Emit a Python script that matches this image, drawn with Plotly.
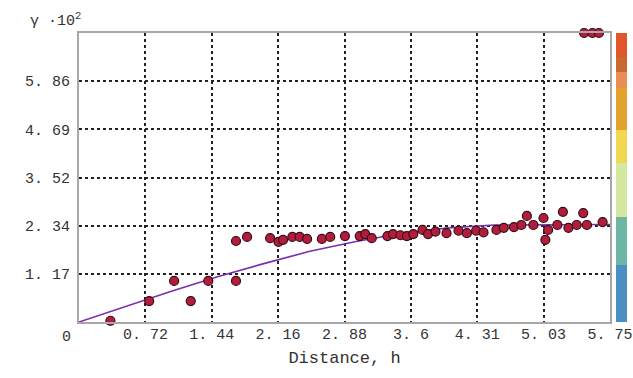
import plotly.graph_objects as go

# Experimental semivariogram points (distance h, gamma x 10^2)
pts_x = [0.34, 0.76, 1.03, 1.21, 1.40, 1.70, 1.70, 1.82,
         2.07, 2.16, 2.21, 2.31, 2.39, 2.47, 2.63, 2.72, 2.88, 3.04, 3.10, 3.17,
         3.34, 3.40, 3.48, 3.55, 3.62, 3.72, 3.78,
         3.86, 3.98, 4.11, 4.20, 4.30, 4.38, 4.52, 4.60, 4.71, 4.79, 4.85, 4.92,
         5.03, 5.05, 5.08, 5.18, 5.24, 5.30, 5.39, 5.46, 5.50, 5.67,
         5.47, 5.56, 5.63]
pts_y = [0.03, 0.51, 1.00, 0.51, 1.00, 1.00, 1.97, 2.07,
         2.04, 1.95, 2.00, 2.07, 2.07, 2.02, 2.02, 2.07, 2.09, 2.09, 2.14, 2.04,
         2.09, 2.14, 2.11, 2.09, 2.14, 2.24, 2.14,
         2.20, 2.16, 2.22, 2.16, 2.22, 2.18, 2.24, 2.29, 2.31, 2.36, 2.58, 2.36,
         2.53, 2.00, 2.24, 2.36, 2.68, 2.29, 2.36, 2.65, 2.36, 2.43,
         7.03, 7.03, 7.03]

# Fitted model curve
fit_x = [0.0, 0.5, 1.0, 1.5, 2.0, 2.5, 3.0, 3.5, 4.0, 4.5, 5.0, 5.75]
fit_y = [0.0, 0.38, 0.75, 1.10, 1.42, 1.72, 1.96, 2.16, 2.29, 2.36, 2.37, 2.37]

x_tickvals = [0.719, 1.4375, 2.156, 2.875, 3.594, 4.3125, 5.031, 5.75]
x_ticktext = ["0. 72", "1. 44", "2. 16", "2. 88", "3. 6", "4. 31", "5. 03", "5. 75"]
y_tickvals = [1.172, 2.343, 3.515, 4.687, 5.858]
y_ticktext = ["1. 17", "2. 34", "3. 52", "4. 69", "5. 86"]

cbar_colors = ["#4A8FC4", "#6DB5A5", "#D5E8A0", "#F2D850", "#E1A22E",
               "#E98F55", "#C86A30", "#E0552A"]
cbar_bounds = [0.0, 0.197, 0.363, 0.55, 0.664, 0.81, 0.865, 0.917, 1.0]

colorscale = []
for i, c in enumerate(cbar_colors):
    colorscale.append([cbar_bounds[i], c])
    colorscale.append([cbar_bounds[i + 1], c])

FONT = "Liberation Mono"

fig = go.Figure()
fig.add_trace(go.Scatter(x=fit_x, y=fit_y, mode="lines",
                         line=dict(color="#7A2FB0", width=1.6),
                         hoverinfo="skip", showlegend=False))
fig.add_trace(go.Scatter(x=pts_x, y=pts_y, mode="markers",
                         marker=dict(size=9, color="#B01E3C",
                                     line=dict(color="#3a0a18", width=1.2)),
                         cliponaxis=False, showlegend=False))
fig.add_trace(go.Scatter(x=[None], y=[None], mode="markers",
                         marker=dict(color=[0], cmin=0, cmax=1, colorscale=colorscale,
                                     showscale=True,
                                     colorbar=dict(x=1.0113, xanchor="left", y=0.5,
                                                   yanchor="middle", len=1.0,
                                                   lenmode="fraction", thickness=11,
                                                   outlinewidth=0, showticklabels=False,
                                                   ticks="", xpad=0, ypad=0)),
                         showlegend=False, hoverinfo="skip"))

fig.update_layout(
    width=633, height=378,
    margin=dict(l=79, r=23, t=33, b=56, autoexpand=False),
    paper_bgcolor="white", plot_bgcolor="white",
    font=dict(family=FONT, size=15, color="#333333"),
    xaxis=dict(range=[0, 5.75], tickvals=x_tickvals, ticktext=x_ticktext,
               showgrid=True, gridcolor="#222222", gridwidth=1.5, griddash="dot",
               showline=True, linecolor="#A8A8A8", linewidth=2, mirror=True,
               zeroline=False, ticks="", ticklabelstandoff=-3,
               title=dict(text="Distance, h", font=dict(size=17, family=FONT),
                          standoff=8)),
    yaxis=dict(range=[0, 7.03], tickvals=y_tickvals, ticktext=y_ticktext,
               showgrid=True, gridcolor="#222222", gridwidth=1.5, griddash="dot",
               showline=True, linecolor="#A8A8A8", linewidth=2, mirror=True,
               zeroline=False, ticks="", ticklabelstandoff=4),
    annotations=[
        dict(text="0", xref="paper", yref="paper", x=-0.0226, y=-0.052,
             showarrow=False, xanchor="center", yanchor="middle",
             font=dict(family=FONT, size=15, color="#333333")),
        dict(text="γ ·10<sup>2</sup>", xref="paper", yref="paper", x=-0.045, y=1.045,
             showarrow=False, xanchor="center", yanchor="middle",
             font=dict(family=FONT, size=15, color="#333333")),
    ],
)

fig.write_html("out.html")
